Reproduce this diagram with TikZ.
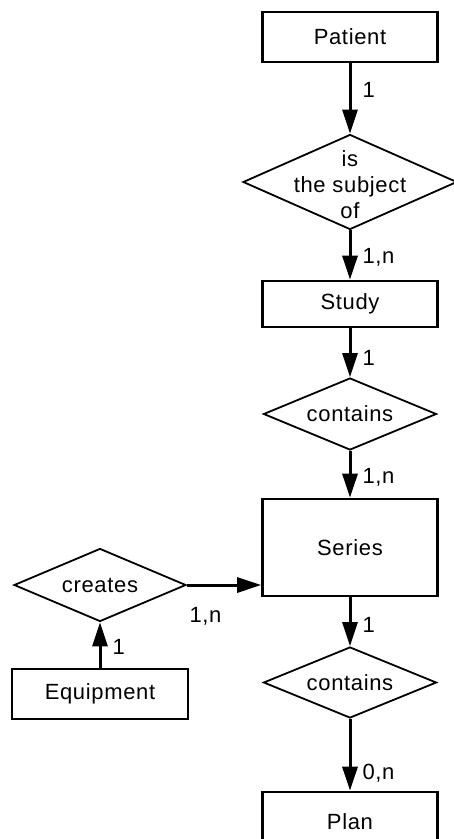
\documentclass[tikz,border=0pt]{standalone}
\usepackage{fontspec}
\setmainfont[LetterSpace=3]{Liberation Sans}
\usetikzlibrary{shapes.geometric,arrows.meta}
\begin{document}
\begin{tikzpicture}[x=1pt,y=-1pt,line join=miter,>={Triangle[length=24pt,width=15pt]},font=\fontsize{22}{26}\selectfont,
	ent/.style={draw,line width=2.6pt,minimum width=175pt,inner sep=0pt},
	rel/.style={draw,diamond,shape aspect=2.4,line width=1.8pt,inner sep=0pt,minimum width=173pt,minimum height=72pt},
	link/.style={->,line width=3pt},
	card/.style={right=11pt,inner sep=0pt}]
	\def\xm{350} \def\xl{100}
	\useasboundingbox (0,0) rectangle (454,839);
	% main column
	\node[ent,minimum height=50pt] (patient) at (\xm,37) {Patient};
	\node[rel,minimum width=214pt,minimum height=95pt,label={[align=center,yshift=-3pt]center:is\\the subject\\of}] (subject) at (\xm,182) {};
	\node[ent,minimum height=46pt] (study) at (\xm,304) {Study};
	\node[rel] (contains) at (\xm,414) {contains};
	\node[ent,minimum height=97pt] (series) at (\xm,547.5) {Series};
	\node[rel,minimum height=71pt] (containsb) at (\xm,682.5) {contains};
	\node[ent,minimum height=60pt] (plan) at (\xm,822) {Plan};
	% left branch
	\node[rel,minimum width=172pt,minimum height=73pt] (creates) at (\xl,585) {creates};
	\node[ent,minimum width=176pt,minimum height=50pt] (equip) at (\xl,694) {Equipment};
	\draw[link] (patient) -- (subject) node[card,pos=0.38]{1};
	\draw[link] (subject) -- (study) node[card,pos=0.55]{1,n};
	\draw[link] (study) -- (contains) node[card,pos=0.6]{1};
	\draw[link] (contains) -- (series) node[card,pos=0.57]{1,n};
	\draw[link] (series) -- (containsb) node[card,pos=0.57]{1};
	\draw[link] (containsb) -- (plan) node[card,pos=0.76]{0,n};
	\draw[link] (equip) -- (creates) node[card,pos=0.46]{1};
	\draw[link] (creates.east) -- (creates.east -| series.west) node[pos=0.25,below=21pt,inner sep=0pt]{1,n};
\end{tikzpicture}
\end{document}
